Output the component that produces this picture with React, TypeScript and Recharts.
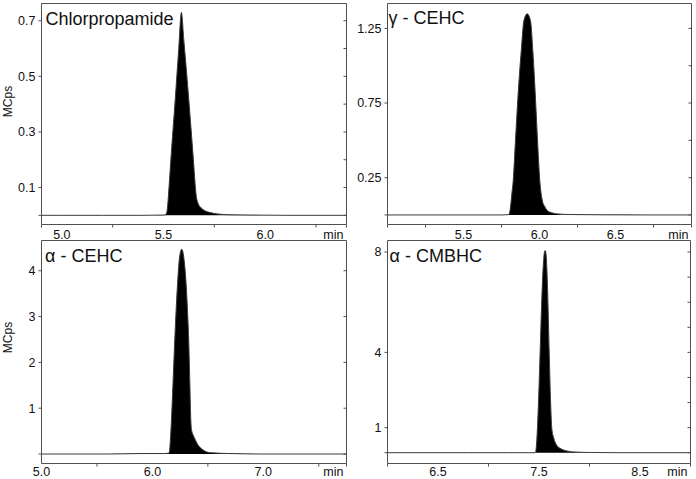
import React from 'react';
import { AreaChart, Area, XAxis, YAxis } from 'recharts';

const FONT = '"Liberation Sans", Arial, Helvetica, sans-serif';
const AXIS = '#505050';
const INK = '#111111';
const W = 696;
const H = 479;

// ---- Chlorpropamide ----
const chlorTime = [4.9, 5.0, 5.2, 5.4, 5.5, 5.51, 5.516, 5.521, 5.527, 5.54, 5.557, 5.575, 5.588, 5.6, 5.625, 5.645, 5.661, 5.672, 5.685, 5.7, 5.73, 5.765, 5.83, 5.95, 6.1, 6.25, 6.4];
const chlorSignal = [0, 0, 0, 0, 0.001, 0.003, 0.01, 0.04, 0.1, 0.24, 0.41, 0.6, 0.73, 0.63, 0.41, 0.22, 0.07, 0.04, 0.027, 0.018, 0.01, 0.005, 0.002, 0.001, 0, 0, 0];
const chlorXLabels = [5.0, 5.5, 6.0];
const chlorXTicks = [4.9, 5.0, 5.25, 5.5, 5.75, 6.0, 6.25, 6.4];
const chlorYLabels = [0.1, 0.3, 0.5, 0.7];
const chlorYLeft = [0, 0.1, 0.3, 0.5, 0.7];
const chlorYRight = [0, 0.1, 0.2, 0.3, 0.4, 0.5, 0.6, 0.7];

// ---- gamma-CEHC ----
const gammaTime = [5.0, 5.2, 5.4, 5.6, 5.75, 5.795, 5.802, 5.81, 5.818, 5.827, 5.842, 5.857, 5.87, 5.88, 5.897, 5.919, 5.941, 5.956, 5.966, 5.974, 5.988, 6.002, 6.018, 6.035, 6.051, 6.08, 6.116, 6.2, 6.4, 6.7, 7.0];
const gammaSignal = [0, 0, 0, 0, 0, 0.002, 0.01, 0.06, 0.14, 0.23, 0.5, 0.77, 0.97, 1.1, 1.3, 1.348, 1.3, 1.1, 0.93, 0.77, 0.48, 0.23, 0.1, 0.055, 0.03, 0.015, 0.007, 0.003, 0.001, 0, 0];
const gammaXLabels = [5.5, 6.0, 6.5];
const gammaXTicks = [5.0, 5.25, 5.5, 5.75, 6.0, 6.25, 6.5, 6.75, 7.0];
const gammaYLabels = [0.25, 0.75, 1.25];
const gammaYLeft = [0, 0.25, 0.75, 1.25];
const gammaYRight = [0, 0.25, 0.5, 0.75, 1.0, 1.25];

// ---- alpha-CEHC ----
const alphaTime = [5.0, 5.3, 5.6, 5.9, 6.1, 6.15, 6.156, 6.162, 6.17, 6.185, 6.2, 6.215, 6.23, 6.245, 6.265, 6.285, 6.3, 6.315, 6.327, 6.338, 6.346, 6.355, 6.37, 6.385, 6.41, 6.445, 6.52, 6.7, 7.0, 7.4, 7.75];
const alphaSignal = [0, 0, 0, 0.01, 0.01, 0.02, 0.1, 0.3, 0.65, 1.5, 2.4, 3.2, 3.85, 4.3, 4.47, 4.25, 3.85, 3.2, 2.5, 1.5, 0.75, 0.5, 0.4, 0.32, 0.2, 0.11, 0.03, 0.01, 0, 0, 0];
const alphaXLabels = [5.0, 6.0, 7.0];
const alphaXTicks = [5.0, 5.5, 6.0, 6.5, 7.0, 7.5, 7.75];
const alphaYLabels = [1, 2, 3, 4];
const alphaYLeft = [0, 1, 2, 3, 4];
const alphaYRight = [0, 1, 2, 3, 4];

// ---- alpha-CMBHC ----
const cmbTime = [6.0, 6.4, 6.8, 7.2, 7.4, 7.462, 7.468, 7.475, 7.488, 7.5, 7.511, 7.525, 7.54, 7.552, 7.561, 7.57, 7.585, 7.601, 7.615, 7.627, 7.645, 7.677, 7.72, 7.776, 7.85, 8.0, 8.3, 8.6, 9.0];
const cmbSignal = [0, 0, 0, 0, 0, 0, 0.05, 0.3, 1.3, 2.6, 4.0, 5.8, 7.3, 7.95, 8.06, 7.9, 6.5, 4.0, 2.0, 0.96, 0.6, 0.29, 0.15, 0.07, 0.03, 0.01, 0, 0, 0];
const cmbXLabels = [6.5, 7.5, 8.5];
const cmbXTicks = [6.0, 6.5, 7.0, 7.5, 8.0, 8.5, 9.0];
const cmbYLabels = [1, 4, 8];
const cmbYLeft = [0, 1, 4, 8];
const cmbYRight = [0, 1, 2, 3, 4, 5, 6, 7, 8];

type Panel = {
  id: string;
  title: string;
  time: number[];
  signal: number[];
  xDomain: [number, number];
  yDomain: [number, number];
  xLabels: number[];
  xTicks: number[];
  yLabels: number[];
  yLeft: number[];
  yRight: number[];
  box: { L: number; R: number; T: number; B: number };
  labelDy: number;
  titlePos: { x: number; y: number };
  yTitleY?: number;
};

const panels: Panel[] = [
  {
    id: 'p1', title: 'Chlorpropamide', time: chlorTime, signal: chlorSignal,
    xDomain: [4.9, 6.4], yDomain: [-0.033, 0.762],
    xLabels: chlorXLabels, xTicks: chlorXTicks, yLabels: chlorYLabels, yLeft: chlorYLeft, yRight: chlorYRight,
    box: { L: 41.5, R: 346.5, T: 3.5, B: 224.5 }, labelDy: 14.5, titlePos: { x: 45.5, y: 25 }, yTitleY: 101.5,
  },
  {
    id: 'p2', title: 'γ - CEHC', time: gammaTime, signal: gammaSignal,
    xDomain: [5.0, 7.0], yDomain: [-0.064, 1.417],
    xLabels: gammaXLabels, xTicks: gammaXTicks, yLabels: gammaYLabels, yLeft: gammaYLeft, yRight: gammaYRight,
    box: { L: 387.5, R: 691.5, T: 3.5, B: 224.5 }, labelDy: 14.5, titlePos: { x: 388.5, y: 24 },
  },
  {
    id: 'p3', title: 'α - CEHC', time: alphaTime, signal: alphaSignal,
    xDomain: [5.0, 7.75], yDomain: [-0.207, 4.66],
    xLabels: alphaXLabels, xTicks: alphaXTicks, yLabels: alphaYLabels, yLeft: alphaYLeft, yRight: alphaYRight,
    box: { L: 41.5, R: 346.5, T: 240.5, B: 463.5 }, labelDy: 12, titlePos: { x: 45, y: 261.5 }, yTitleY: 337.5,
  },
  {
    id: 'p4', title: 'α - CMBHC', time: cmbTime, signal: cmbSignal,
    xDomain: [6.0, 9.0], yDomain: [-0.43, 8.46],
    xLabels: cmbXLabels, xTicks: cmbXTicks, yLabels: cmbYLabels, yLeft: cmbYLeft, yRight: cmbYRight,
    box: { L: 387.5, R: 690.5, T: 240.5, B: 463.5 }, labelDy: 12, titlePos: { x: 389.5, y: 261.5 },
  },
];

const Y_AXIS_W = 41;
const X_AXIS_H = 15;

function ChartPanel({ p }: { p: Panel }) {
  const data = p.time.map((t, i) => ({ t, v: p.signal[i] }));
  const margin = {
    top: p.box.T - 1,
    left: p.box.L - Y_AXIS_W,
    right: W - p.box.R,
    bottom: H - p.box.B - X_AXIS_H,
  };

  const XTick = (props: any) => {
    const { x, y, payload } = props;
    const v = payload.value as number;
    if (p.xLabels.includes(v)) {
      return (
        <text x={x} y={y + p.labelDy} textAnchor="middle" fontSize={12.5} fontFamily={FONT} fill={INK}>
          {v.toFixed(1)}
        </text>
      );
    }
    const mark = <line x1={x} x2={x} y1={y} y2={y + 3} stroke={AXIS} strokeWidth={1} />;
    if (v === p.xDomain[1]) {
      return (
        <g>
          {mark}
          <text x={x - 3} y={y + p.labelDy} textAnchor="end" fontSize={12.5} fontFamily={FONT} fill={INK}>min</text>
        </g>
      );
    }
    return mark;
  };

  const YTick = (props: any) => {
    const { x, y, payload } = props;
    const v = payload.value as number;
    if (!p.yLabels.includes(v)) return <g />;
    return (
      <text x={x} y={y} dy="0.355em" textAnchor="end" fontSize={12.5} fontFamily={FONT} fill={INK}>
        {String(v)}
      </text>
    );
  };

  return (
    <div style={{ position: 'absolute', left: 0, top: 0, width: W, height: H }}>
      <AreaChart width={W} height={H} data={data} margin={margin}>
        <XAxis
          xAxisId="b" dataKey="t" type="number" domain={p.xDomain} allowDataOverflow
          ticks={p.xTicks} interval={0} height={X_AXIS_H}
          tickLine={false} tickSize={0} tickMargin={0} tick={XTick}
          axisLine={{ stroke: AXIS, strokeWidth: 1 }}
        />
        <XAxis
          xAxisId="top" orientation="top" dataKey="t" type="number" domain={p.xDomain} allowDataOverflow
          ticks={[p.xDomain[0]]} interval={0} height={1}
          tickLine={false} tick={() => <g />}
          axisLine={{ stroke: AXIS, strokeWidth: 1 }}
        />
        <YAxis
          yAxisId="l" type="number" domain={p.yDomain} allowDataOverflow
          ticks={p.yLeft} interval={0} width={Y_AXIS_W}
          tickSize={3} tickMargin={3} tick={YTick}
          tickLine={{ stroke: AXIS, strokeWidth: 1 }}
          axisLine={{ stroke: AXIS, strokeWidth: 1 }}
        />
        <YAxis
          yAxisId="r" orientation="right" mirror type="number" domain={p.yDomain} allowDataOverflow
          ticks={p.yRight} interval={0} width={1}
          tickSize={3} tick={() => <g />}
          tickLine={{ stroke: AXIS, strokeWidth: 1 }}
          axisLine={{ stroke: AXIS, strokeWidth: 1 }}
        />
        <Area
          xAxisId="b" yAxisId="l" dataKey="v" type="monotone" baseValue={0}
          stroke="#3a3a3a" strokeWidth={1} fill="#000000" fillOpacity={1}
          isAnimationActive={false} dot={false} activeDot={false}
        />
      </AreaChart>
    </div>
  );
}

export default function App() {
  return (
    <div style={{ position: 'absolute', left: 0, top: 0, width: W, height: H, background: '#ffffff' }}>
      {panels.map((p) => (
        <ChartPanel key={p.id} p={p} />
      ))}
      <svg width={W} height={H} style={{ position: 'absolute', left: 0, top: 0, pointerEvents: 'none' }}>
        {panels.map((p) => (
          <text key={p.id + 't'} x={p.titlePos.x} y={p.titlePos.y} fontSize={18} fontFamily={FONT} fill={INK}>
            {p.title}
          </text>
        ))}
        {panels.filter((p) => p.yTitleY !== undefined).map((p) => (
          <text
            key={p.id + 'y'}
            transform={`translate(12, ${p.yTitleY}) rotate(-90)`}
            textAnchor="middle" fontSize={12} fontFamily={FONT} fill={INK}
          >
            MCps
          </text>
        ))}
      </svg>
    </div>
  );
}
